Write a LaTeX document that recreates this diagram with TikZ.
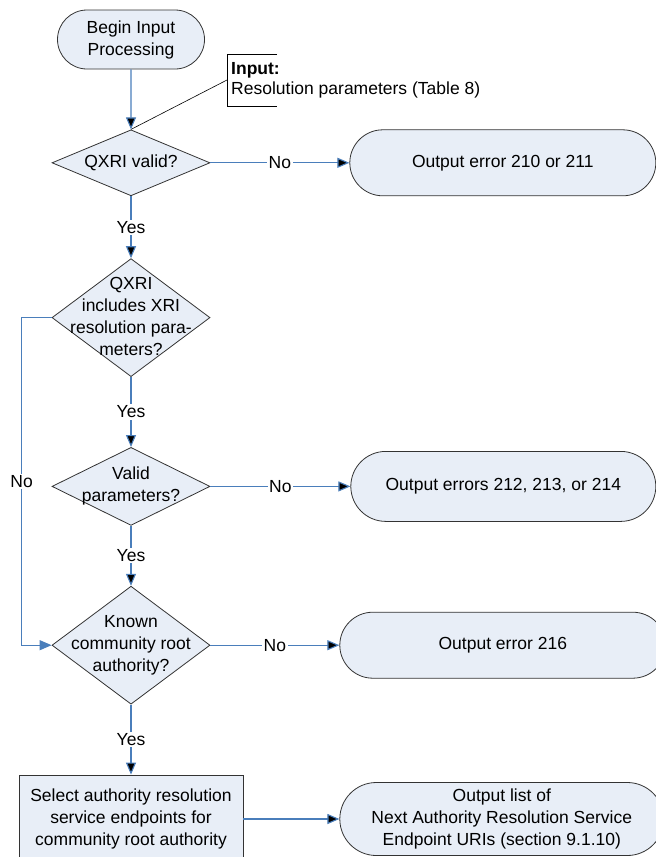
\documentclass[tikz,border=0pt]{standalone}
\usepackage{fontspec}
\setmainfont{Liberation Sans}
\usetikzlibrary{positioning, shapes.geometric, shapes.misc, arrows.meta}
\definecolor{boxfill}{HTML}{E8EEF7}
\definecolor{flowblue}{HTML}{4A7EBB}
\newcommand{\dtext}[1]{\makebox[0pt]{\smash{\raisebox{-.25em}{\begin{tabular}{@{}c@{}}#1\end{tabular}}}}}
\tikzset{term node/.style={rounded rectangle, draw=black!80, fill=boxfill, line width=0.8pt, align=center, inner sep=0pt},
         test node/.style={diamond, draw=black!80, fill=boxfill, line width=0.8pt, inner sep=0pt, minimum width=158pt, minimum height=#1},
         task node/.style={rectangle, draw=black!80, fill=boxfill, line width=0.8pt, align=center, inner sep=0pt, minimum width=224pt, minimum height=88pt},
         flow/.style={draw=flowblue, line width=1.1pt, -{Triangle[length=12pt,width=10pt]}},
         lbl/.style={fill=white, inner sep=1.5pt},
         note line/.style={draw=black, line width=0.6pt},}

\begin{document}
\begin{tikzpicture}[x=1pt, y=-1pt, font=\fontsize{17.5}{22}\selectfont]
        \useasboundingbox (0,0) rectangle (656,857);
        % Steps
        \node[term node, minimum width=147pt, minimum height=59pt] (begin) at (131,39.5) {Begin Input\\Processing};
        \node[test node=66pt] [below = 60pt of begin] (valid) {\dtext{QXRI valid?}};
        \node[test node=118pt] [below = 62pt of valid] (params) {\dtext{QXRI\\includes XRI\\resolution para-\\meters?}};
        \node[test node=78pt] [below = 70pt of params] (pvalid) {\dtext{Valid\\parameters?}};
        \node[test node=118pt] [below = 60pt of pvalid] (known) {\dtext{Known\\community root\\authority?}};
        \node[task node] [below = 70pt of known] (select) {Select authority resolution\\service endpoints for\\community root authority};
        % Outputs
        \node[term node, minimum width=306pt, minimum height=66pt] [right = 139pt of valid] (err1) {Output error 210 or 211};
        \node[term node, minimum width=305pt, minimum height=70pt] [right = 140pt of pvalid] (err2) {Output errors 212, 213, or 214};
        \node[term node, minimum width=326pt, minimum height=66pt] [right = 129pt of known] (err3) {Output error 216};
        \node[term node, minimum width=324pt, minimum height=73pt] [right = 96pt of select] (list) {Output list of\\Next Authority Resolution Service\\Endpoint URIs (section 9.1.10)};
        % Input note
        \node[anchor=west, inner sep=0pt, align=left, font=\fontsize{17.5}{19.5}\selectfont] (note) at (231,80.5) {\textbf{Input:}\\Resolution parameters (Table 8)};
        \coordinate (bk) at (227,80);
        \draw[note line] (277,54) -| (227,106) -- (277,106);
        \draw[note line] (bk) -- (valid.north);
        % Paths
        \path[flow]
        (begin) edge (valid)
        (valid) edge node[lbl] {No} (err1)
        (valid) edge node[lbl] {Yes} (params)
        (params) edge node[lbl] {Yes} (pvalid)
        (pvalid) edge node[lbl] {No} (err2)
        (pvalid) edge node[lbl] {Yes} (known)
        (known) edge node[lbl] {No} (err3)
        (known) edge node[lbl] {Yes} (select)
        (select) edge (list);
        \draw[flow] (params.west) -- ++(-30,0) |- node[lbl, pos=0.25] {No} (known.west);
    \end{tikzpicture}
\end{document}
